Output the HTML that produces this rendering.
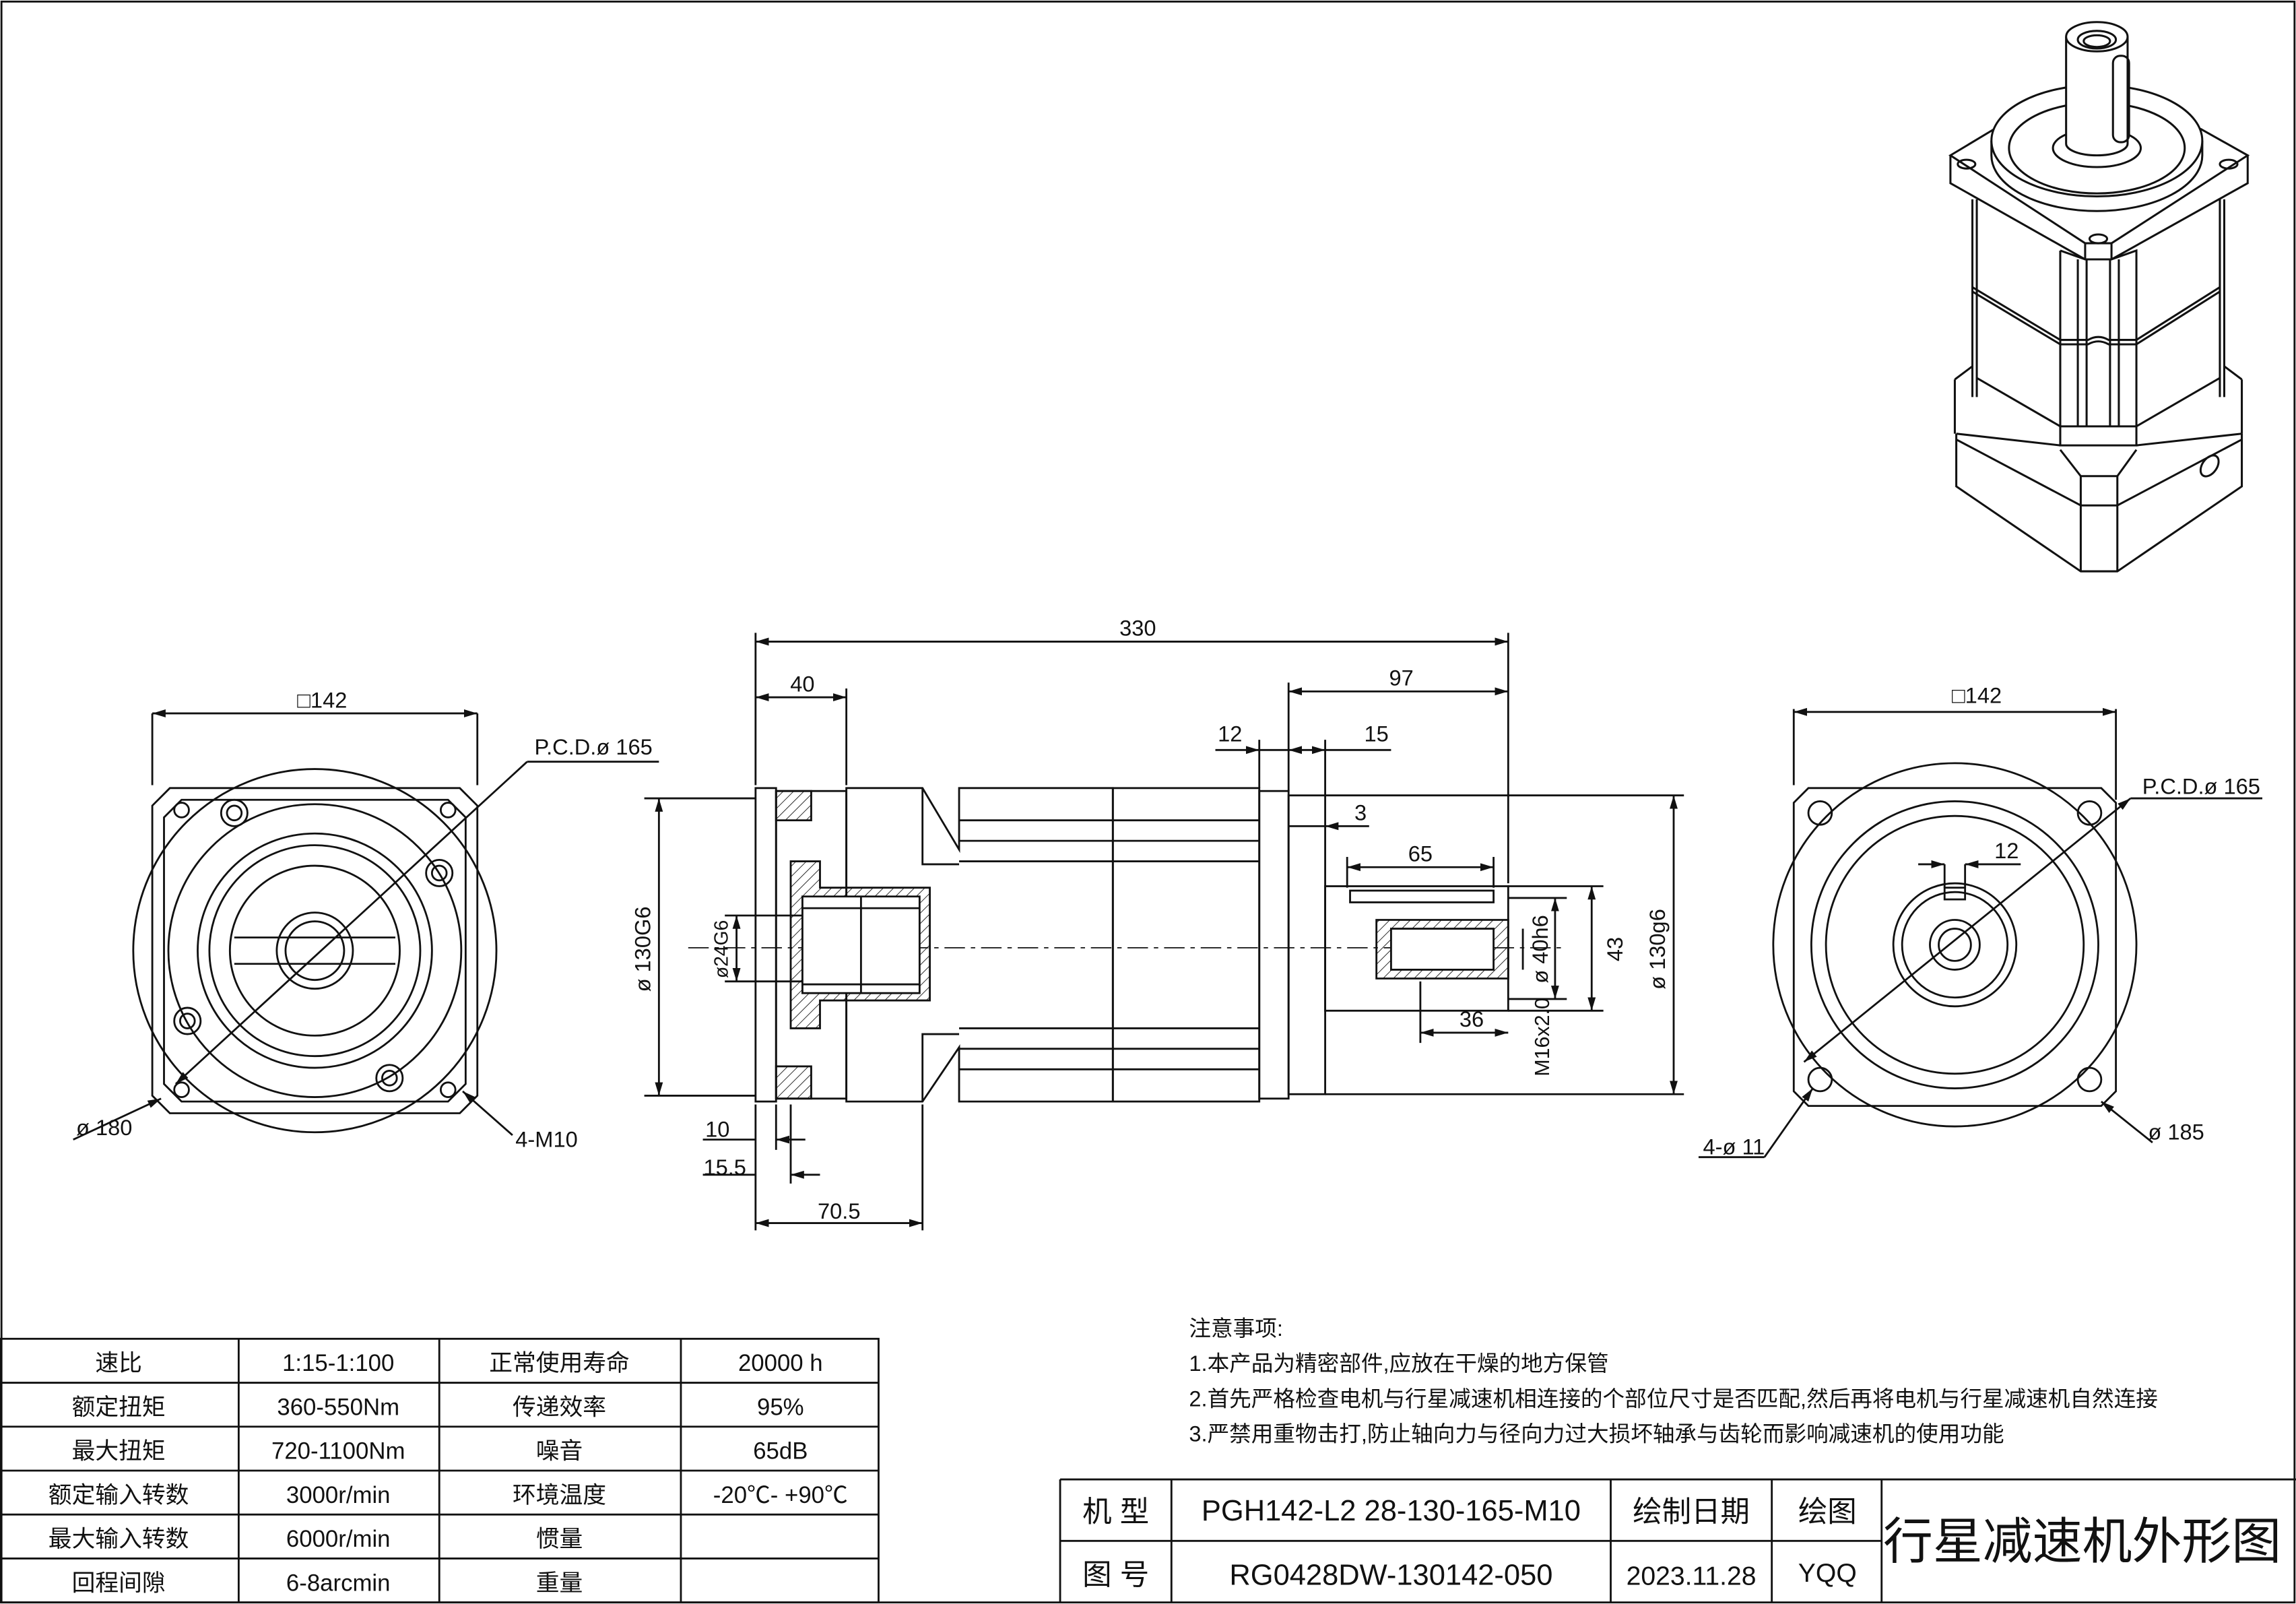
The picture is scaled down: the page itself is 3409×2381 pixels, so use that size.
<!DOCTYPE html>
<html><head><meta charset="utf-8"><style>
html,body{margin:0;padding:0;background:#fff;}
svg{display:block}
text{font-family:"Liberation Sans","Noto Sans CJK SC",sans-serif;fill:#111}
</style></head><body>
<svg width="3409" height="2381" viewBox="0 0 1568 1095" xmlns="http://www.w3.org/2000/svg">
<defs>
<marker id="a" viewBox="0 0 10 10" refX="10" refY="5" markerWidth="7" markerHeight="7" orient="auto-start-reverse"><path d="M0,2 L10,5 L0,8z" fill="#111"/></marker>
<pattern id="h" width="5" height="5" patternUnits="userSpaceOnUse" patternTransform="rotate(45)"><line x1="0" y1="0" x2="0" y2="5" stroke="#111" stroke-width="0.8"/></pattern>
</defs>
<g fill="none" stroke="#111" stroke-width="1.3">
<rect x="1" y="1" width="1566" height="1093"/>
<!-- LEFT VIEW -->
<path d="M116,538 H314 L326,550 V748 L314,760 H116 L104,748 V550 Z"/>
<path d="M124,546 H306 L318,558 V740 L306,752 H124 L112,740 V558 Z"/>
<circle cx="215" cy="649" r="124"/>
<circle cx="215" cy="649" r="100"/>
<circle cx="215" cy="649" r="80"/>
<circle cx="215" cy="649" r="72"/>
<circle cx="215" cy="649" r="58"/>
<circle cx="215" cy="649" r="26"/>
<circle cx="215" cy="649" r="20"/>
<path d="M160,640 H270 M160,658 H270"/>
<circle cx="160" cy="555" r="9"/><circle cx="160" cy="555" r="5"/>
<circle cx="300" cy="596" r="9"/><circle cx="300" cy="596" r="5"/>
<circle cx="128" cy="697" r="9"/><circle cx="128" cy="697" r="5"/>
<circle cx="266" cy="736" r="9"/><circle cx="266" cy="736" r="5"/>
<circle cx="124" cy="553" r="5"/><circle cx="306" cy="553" r="5"/><circle cx="124" cy="744" r="5"/><circle cx="306" cy="744" r="5"/>
<line x1="104" y1="487" x2="104" y2="536"/><line x1="326" y1="487" x2="326" y2="536"/>
<line x1="104" y1="487" x2="326" y2="487" marker-start="url(#a)" marker-end="url(#a)"/>
<line x1="120" y1="740" x2="360" y2="520" marker-start="url(#a)"/><line x1="360" y1="520" x2="450" y2="520"/>
<line x1="50" y1="778" x2="110" y2="750" marker-end="url(#a)"/>
<line x1="350" y1="775" x2="316" y2="745" marker-end="url(#a)"/>
<!-- MIDDLE VIEW -->
<line x1="470" y1="647" x2="1070" y2="647" stroke-dasharray="14,4,3,4" stroke-width="0.8"/>
<rect x="516" y="538" width="14" height="214"/>
<rect x="530" y="540" width="48" height="210"/>
<path d="M578,538 H630 L655,580 V538 H760 V752 H655 V715 L630,752 H578 Z"/>
<path d="M630,538 V590 H655 M630,752 V706 H655"/>
<rect x="760" y="538" width="100" height="214"/>
<rect x="860" y="540" width="20" height="210"/>
<rect x="880" y="543" width="25" height="204"/>
<path d="M655,560 H860 M655,574 H860 M655,588 H860 M655,702 H860 M655,716 H860 M655,730 H860"/>
<path d="M540,588 H560 V606 H635 V683 H560 V702 H540 Z" fill="url(#h)"/>
<path d="M548,612 H628 V678 H548 Z" fill="#fff"/>
<path d="M548,620 H628 M548,672 H628 M588,612 V678"/>
<rect x="530" y="540" width="24" height="20" fill="url(#h)"/>
<rect x="530" y="728" width="24" height="22" fill="url(#h)"/>
<rect x="905" y="605" width="125" height="85"/>
<rect x="922" y="608" width="98" height="8"/>
<path d="M940,628 H1030 V668 H940 Z" fill="url(#h)"/>
<path d="M950,634 H1020 V662 H950 Z" fill="#fff"/>
<!-- dims middle -->
<line x1="516" y1="432" x2="516" y2="536"/><line x1="1030" y1="432" x2="1030" y2="603"/>
<line x1="516" y1="438" x2="1030" y2="438" marker-start="url(#a)" marker-end="url(#a)"/>
<line x1="578" y1="470" x2="578" y2="536"/>
<line x1="516" y1="476" x2="578" y2="476" marker-start="url(#a)" marker-end="url(#a)"/>
<line x1="880" y1="466" x2="880" y2="540"/>
<line x1="880" y1="472" x2="1030" y2="472" marker-start="url(#a)" marker-end="url(#a)"/>
<line x1="860" y1="505" x2="860" y2="538"/><line x1="905" y1="505" x2="905" y2="543"/>
<line x1="830" y1="512" x2="860" y2="512" marker-end="url(#a)"/><line x1="880" y1="512" x2="860" y2="512"/>
<line x1="880" y1="512" x2="905" y2="512" marker-start="url(#a)" marker-end="url(#a)"/><line x1="905" y1="512" x2="950" y2="512"/>
<line x1="905" y1="564" x2="935" y2="564" marker-start="url(#a)"/><line x1="880" y1="564" x2="905" y2="564"/>
<line x1="920" y1="585" x2="920" y2="606"/><line x1="1020" y1="585" x2="1020" y2="606"/>
<line x1="920" y1="592" x2="1020" y2="592" marker-start="url(#a)" marker-end="url(#a)"/>
<line x1="970" y1="670" x2="970" y2="712"/>
<line x1="970" y1="705" x2="1030" y2="705" marker-start="url(#a)" marker-end="url(#a)"/>
<line x1="440" y1="545" x2="516" y2="545"/><line x1="440" y1="748" x2="516" y2="748"/>
<line x1="450" y1="545" x2="450" y2="748" marker-start="url(#a)" marker-end="url(#a)"/>
<line x1="495" y1="625" x2="548" y2="625"/><line x1="495" y1="670" x2="548" y2="670"/>
<line x1="503" y1="625" x2="503" y2="670" marker-start="url(#a)" marker-end="url(#a)"/>
<line x1="1030" y1="605" x2="1095" y2="605"/><line x1="1030" y1="690" x2="1095" y2="690"/>
<line x1="1030" y1="613" x2="1070" y2="613"/><line x1="1030" y1="682" x2="1070" y2="682"/>
<line x1="1062" y1="613" x2="1062" y2="682" marker-start="url(#a)" marker-end="url(#a)"/>
<line x1="1087" y1="605" x2="1087" y2="690" marker-start="url(#a)" marker-end="url(#a)"/>
<line x1="905" y1="543" x2="1150" y2="543"/><line x1="905" y1="747" x2="1150" y2="747"/>
<line x1="1143" y1="543" x2="1143" y2="747" marker-start="url(#a)" marker-end="url(#a)"/>
<line x1="1040" y1="634" x2="1040" y2="662"/>
<line x1="516" y1="754" x2="516" y2="840"/><line x1="530" y1="754" x2="530" y2="785"/><line x1="540" y1="754" x2="540" y2="808"/><line x1="630" y1="754" x2="630" y2="840"/>
<line x1="480" y1="778" x2="516" y2="778"/><line x1="530" y1="778" x2="550" y2="778" marker-start="url(#a)"/>
<line x1="480" y1="802" x2="516" y2="802"/><line x1="540" y1="802" x2="560" y2="802" marker-start="url(#a)"/>
<line x1="516" y1="835" x2="630" y2="835" marker-start="url(#a)" marker-end="url(#a)"/>
<!-- RIGHT VIEW -->
<path d="M1235,538 H1435 L1445,548 V745 L1435,755 H1235 L1225,745 V548 Z"/>
<circle cx="1335" cy="645" r="124"/>
<circle cx="1335" cy="645" r="98"/>
<circle cx="1335" cy="645" r="88"/>
<circle cx="1335" cy="645" r="42"/>
<circle cx="1335" cy="645" r="36"/>
<circle cx="1335" cy="645" r="17"/>
<circle cx="1335" cy="645" r="11"/>
<rect x="1328" y="606" width="14" height="8"/>
<circle cx="1243" cy="555" r="8"/><circle cx="1427" cy="555" r="8"/><circle cx="1243" cy="737" r="8"/><circle cx="1427" cy="737" r="8"/>
<line x1="1225" y1="484" x2="1225" y2="536"/><line x1="1445" y1="484" x2="1445" y2="546"/>
<line x1="1225" y1="486" x2="1445" y2="486" marker-start="url(#a)" marker-end="url(#a)"/>
<line x1="1232" y1="725" x2="1455" y2="545" marker-start="url(#a)" marker-end="url(#a)"/><line x1="1455" y1="545" x2="1545" y2="545"/>
<line x1="1328" y1="590" x2="1328" y2="606"/><line x1="1342" y1="590" x2="1342" y2="606"/>
<line x1="1310" y1="590" x2="1328" y2="590" marker-end="url(#a)"/><line x1="1342" y1="590" x2="1380" y2="590" marker-start="url(#a)"/>
<line x1="1160" y1="790" x2="1205" y2="790"/><line x1="1205" y1="790" x2="1238" y2="743" marker-end="url(#a)"/>
<line x1="1470" y1="780" x2="1435" y2="752" marker-end="url(#a)"/>
<!-- 3D view -->
<g stroke-width="1.4">
<!-- flange plate -->
<path d="M1332,106 L1362,88 H1503 L1535,106 L1442,166 H1424 Z" fill="#fff"/>
<path d="M1332,106 V125 L1424,177 H1442 L1535,125 V106 M1424,166 V177 M1442,166 V177"/>
<ellipse cx="1343" cy="112" rx="6" ry="3"/><ellipse cx="1522" cy="112" rx="6" ry="3"/><ellipse cx="1433" cy="163" rx="6" ry="3"/>
<!-- raised boss -->
<path d="M1360,96 V106 A72,38 0 0 0 1504,106 V96" fill="#fff"/>
<ellipse cx="1432" cy="96" rx="72" ry="38" fill="#fff"/>
<ellipse cx="1432" cy="101" rx="60" ry="31"/>
<ellipse cx="1432" cy="101" rx="30" ry="13" fill="#fff"/>
<!-- shaft -->
<path d="M1411,25 V98 A21,8 0 0 0 1453,98 V25" fill="#fff"/>
<ellipse cx="1432" cy="25" rx="21" ry="10" fill="#fff"/>
<ellipse cx="1432" cy="27" rx="13" ry="6"/>
<ellipse cx="1432" cy="28" rx="9" ry="4"/>
<rect x="1443" y="38" width="11" height="59" rx="5"/>
<!-- body -->
<path d="M1347,136 V271 M1350,136 V271 M1516,136 V271 M1519,136 V271"/>
<path d="M1347,196 L1407,232 L1426,232 Q1433,228 1440,232 L1459,232 L1516,196"/>
<path d="M1347,199 L1407,235 L1426,235 Q1433,231 1440,235 L1459,235 L1516,199"/>
<path d="M1350,258 L1407,291 L1459,291 L1516,258"/>
<path d="M1407,171 V304 H1459 V171 L1442,177 M1407,171 L1424,177 M1419,177 V291 M1425,177 V291 M1441,177 V291 M1447,177 V291"/>
<!-- bottom housing -->
<path d="M1335,259 L1347,250 M1335,259 V296 M1531,259 L1519,250 M1531,259 V296"/>
<path d="M1336,296 L1407,304 M1531,296 L1459,304"/>
<path d="M1407,307 L1421,325 L1446,325 L1459,307"/>
<path d="M1336,296 V332 L1421,390 H1446 L1531,332 V296"/>
<path d="M1336,300 L1421,345 H1446 L1531,300 M1421,325 V390 M1446,325 V390"/>
<ellipse cx="1509" cy="318" rx="5" ry="8" transform="rotate(35 1509 318)"/>
</g>
<!-- TABLE -->
<rect x="0" y="914" width="600" height="180"/>
<path d="M0,944 H600 M0,974 H600 M0,1004 H600 M0,1034 H600 M0,1064 H600 M163,914 V1094 M300,914 V1094 M465,914 V1094"/>
<!-- title block -->
<path d="M724,1010 H1568 M724,1052 H1285 M724,1094 V1010 M800,1010 V1094 M1100,1010 V1094 M1210,1010 V1094 M1285,1010 V1094"/>
</g>
<g font-size="15">
<text x="220" y="483" text-anchor="middle">□142</text>
<text x="365" y="515">P.C.D.ø 165</text>
<text x="52" y="775">ø 180</text>
<text x="352" y="783">4-M10</text>
<text x="777" y="434" text-anchor="middle">330</text>
<text x="548" y="472" text-anchor="middle">40</text>
<text x="957" y="468" text-anchor="middle">97</text>
<text x="840" y="506" text-anchor="middle">12</text>
<text x="940" y="506" text-anchor="middle">15</text>
<text x="925" y="560">3</text>
<text x="970" y="588" text-anchor="middle">65</text>
<text x="1005" y="701" text-anchor="middle">36</text>
<text x="490" y="776" text-anchor="middle">10</text>
<text x="495" y="802" text-anchor="middle">15.5</text>
<text x="573" y="832" text-anchor="middle">70.5</text>
<text transform="translate(444,648) rotate(-90)" text-anchor="middle">ø 130G6</text>
<text transform="translate(497,648) rotate(-90)" text-anchor="middle" font-size="13">ø24G6</text>
<text transform="translate(1057,648) rotate(-90)" text-anchor="middle">ø 40h6</text>
<text transform="translate(1108,648) rotate(-90)" text-anchor="middle">43</text>
<text transform="translate(1137,648) rotate(-90)" text-anchor="middle">ø 130g6</text>
<text transform="translate(1058,708) rotate(-90)" text-anchor="middle" font-size="14">M16x2.0</text>
<text x="1350" y="480" text-anchor="middle">□142</text>
<text x="1463" y="542">P.C.D.ø 165</text>
<text x="1362" y="586">12</text>
<text x="1163" y="788">4-ø 11</text>
<text x="1467" y="778">ø 185</text>
</g>
<g font-size="15">
<text x="812" y="912">注意事项:</text>
<text x="812" y="936">1.本产品为精密部件,应放在干燥的地方保管</text>
<text x="812" y="960">2.首先严格检查电机与行星减速机相连接的个部位尺寸是否匹配,然后再将电机与行星减速机自然连接</text>
<text x="812" y="984">3.严禁用重物击打,防止轴向力与径向力过大损坏轴承与齿轮而影响减速机的使用功能</text>
</g>
<g font-size="16" text-anchor="middle">
<text x="81" y="936">速比</text><text x="231" y="936">1:15-1:100</text><text x="382" y="936">正常使用寿命</text><text x="533" y="936">20000 h</text>
<text x="81" y="966">额定扭矩</text><text x="231" y="966">360-550Nm</text><text x="382" y="966">传递效率</text><text x="533" y="966">95%</text>
<text x="81" y="996">最大扭矩</text><text x="231" y="996">720-1100Nm</text><text x="382" y="996">噪音</text><text x="533" y="996">65dB</text>
<text x="81" y="1026">额定输入转数</text><text x="231" y="1026">3000r/min</text><text x="382" y="1026">环境温度</text><text x="533" y="1026">-20℃- +90℃</text>
<text x="81" y="1056">最大输入转数</text><text x="231" y="1056">6000r/min</text><text x="382" y="1056">惯量</text>
<text x="81" y="1086">回程间隙</text><text x="231" y="1086">6-8arcmin</text><text x="382" y="1086">重量</text>
</g>
<g font-size="20" text-anchor="middle">
<text x="762" y="1039">机 型</text>
<text x="950" y="1038">PGH142-L2 28-130-165-M10</text>
<text x="1155" y="1039">绘制日期</text>
<text x="1248" y="1039">绘图</text>
<text x="762" y="1082">图 号</text>
<text x="950" y="1082">RG0428DW-130142-050</text>
<text x="1155" y="1082" font-size="18">2023.11.28</text>
<text x="1248" y="1080" font-size="18">YQQ</text>
<text x="1422" y="1064" font-size="34">行星减速机外形图</text>
</g>
</svg>
</body></html>
